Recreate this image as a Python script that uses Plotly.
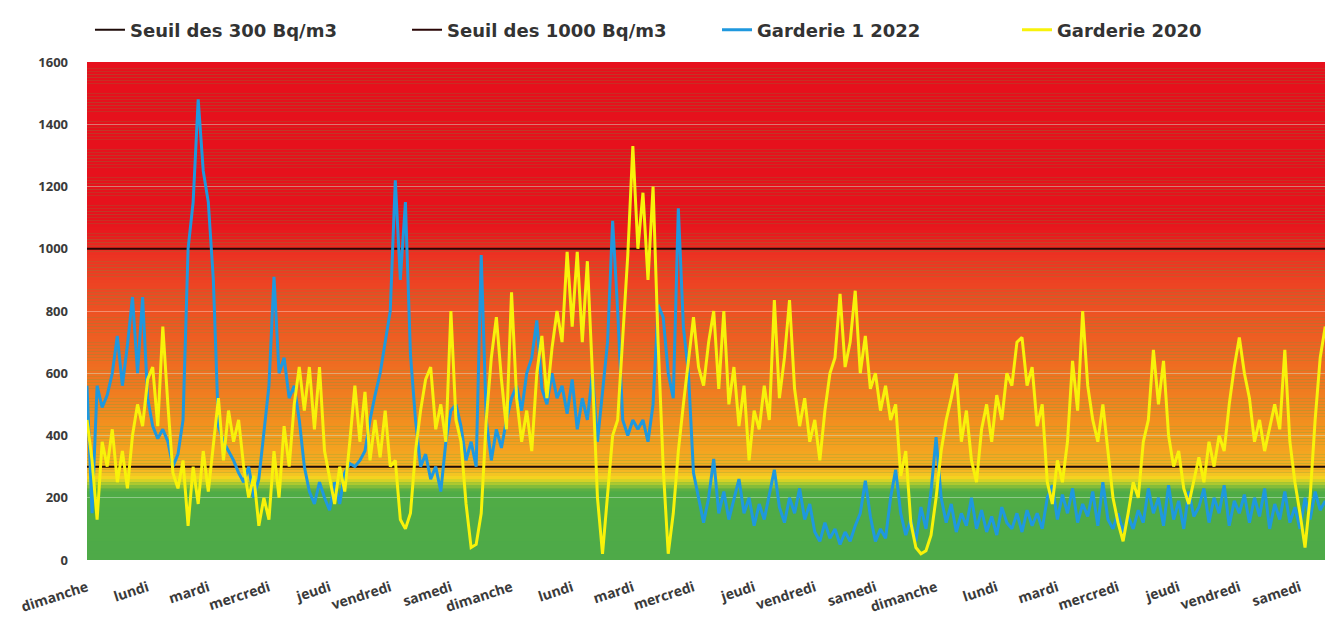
import plotly.graph_objects as go

# ---------------- data ----------------
day_labels = ["dimanche", "lundi", "mardi", "mercredi", "jeudi", "vendredi", "samedi"] * 3
step_hours = 2  # one reading every 2 hours

seuil_300 = 300
seuil_1000 = 1000

garderie1_2022 = [
    560, 150, 560, 490, 530, 600, 720, 560, 690, 845, 600, 845, 520,
    430, 390, 420, 380, 300, 340, 450, 1000, 1150, 1480, 1250, 1150,
    900, 430, 380, 350, 320, 280, 250, 300, 200, 260, 420, 560,
    910, 600, 650, 520, 560, 450, 300, 220, 180, 250, 200, 160,
    250, 180, 280, 310, 300, 320, 350, 450, 530, 600, 700, 800,
    1220, 900, 1150, 660, 450, 300, 340, 260, 300, 220, 380, 480,
    500, 430, 320, 380, 300, 980, 450, 320, 420, 360, 450, 520,
    560, 480, 600, 650, 770, 550, 500, 600, 520, 560, 470, 580,
    420, 520, 450, 600, 380, 550, 700, 1090, 800, 450, 400, 450,
    420, 450, 380, 500, 820, 780, 600, 520, 1130, 750, 600, 280,
    200, 120, 200, 325, 150, 220, 130, 200, 260, 150, 200,
    110, 180, 130, 210, 290, 170, 120, 200, 150, 230, 130, 180,
    90, 60, 120, 70, 100, 50, 90, 60, 110, 150, 255, 140,
    60, 100, 70, 200, 290, 150, 80, 130, 60, 170, 100, 220,
    395, 200, 120, 180, 90, 150, 110, 200, 100, 160, 90, 140,
    80, 170, 120, 100, 150, 90, 160, 110, 150, 100, 200, 240,
    130, 210, 150, 230, 120, 180, 140, 220, 110, 250, 130, 100,
    150, 90, 140, 100, 160, 120, 230, 150, 200, 110, 240, 130,
    190, 100, 220, 140, 170, 230, 120, 200, 150, 240, 110, 190,
    150, 210, 120, 200, 140, 230, 100, 180, 130, 220, 120, 170,
    100, 200, 130, 220, 160, 190,
]

garderie_2020 = [
    450, 320, 130, 380, 300, 420, 250, 350, 230, 400, 500, 430, 580,
    620, 430, 750, 500, 280, 230, 320, 110, 300, 180, 350, 220,
    380, 520, 320, 480, 380, 450, 300, 200, 270, 110, 200, 130,
    350, 200, 430, 300, 500, 620, 480, 620, 420, 620, 350, 270,
    180, 300, 220, 380, 560, 380, 540, 320, 450, 330, 480, 300,
    320, 130, 100, 150, 350, 480, 580, 620, 420, 500, 380, 800,
    450, 380, 180, 40, 50, 150, 450, 650, 780, 580, 420, 860,
    520, 380, 480, 350, 600, 720, 520, 680, 800, 700, 990, 750,
    990, 700, 960, 600, 200, 20, 220, 400, 450, 720, 980, 1330,
    1000, 1180, 900, 1200, 700, 300, 20, 150, 350, 500, 650, 780,
    620, 560, 700, 800, 550, 800, 500, 620, 430, 560, 320,
    480, 420, 560, 450, 835, 520, 650, 835, 550, 430, 520, 380,
    450, 320, 480, 600, 650, 855, 620, 700, 865, 600, 720, 550,
    600, 480, 560, 450, 500, 270, 350, 120, 40, 20, 30, 80,
    200, 350, 450, 520, 600, 380, 480, 320, 250, 420, 500, 380,
    530, 450, 600, 560, 700, 715, 560, 620, 430, 500, 250, 180,
    320, 250, 380, 640, 480, 800, 560, 450, 380, 500, 350, 200,
    120, 60, 150, 250, 200, 380, 450, 675, 500, 640, 400, 300,
    350, 230, 180, 250, 330, 250, 380, 300, 400, 350, 500, 620,
    715, 600, 520, 380, 450, 350, 420, 500, 420, 675, 380, 250,
    150, 40, 200, 450, 650, 750,
]

n = len(garderie_2020)
hours = [i * step_hours for i in range(n)]
tick_hours = [24 * d for d in range(len(day_labels))]

# ---------------- background gradient (styling) ----------------
stops = [
    (0, (78, 170, 72)), (222, (80, 172, 70)), (248, (185, 205, 45)),
    (262, (244, 214, 32)), (288, (245, 178, 35)), (400, (243, 152, 30)),
    (550, (240, 122, 32)), (700, (238, 96, 34)), (850, (237, 74, 35)),
    (980, (236, 50, 34)), (1040, (232, 28, 30)), (1100, (230, 18, 28)),
    (1600, (230, 16, 28)),
]


def color_at(v):
    for (v0, c0), (v1, c1) in zip(stops[:-1], stops[1:]):
        if v0 <= v <= v1:
            t = (v - v0) / (v1 - v0)
            return "rgb(%d,%d,%d)" % tuple(round(a + (b - a) * t) for a, b in zip(c0, c1))
    return "rgb(%d,%d,%d)" % stops[-1][1]


shapes = []
band = 10
for lo in range(0, 1600, band):
    shapes.append(dict(type="rect", xref="paper", yref="y", x0=0, x1=1,
                       y0=lo, y1=lo + band, fillcolor=color_at(lo + band / 2),
                       line=dict(width=0), layer="below"))

# ---------------- figure ----------------
fig = go.Figure()
fig.add_trace(go.Scatter(x=[hours[0], hours[-1]], y=[seuil_300, seuil_300], mode="lines",
                         name="Seuil des 300 Bq/m3", legend="legend",
                         line=dict(color="#1e0b08", width=2)))
fig.add_trace(go.Scatter(x=[hours[0], hours[-1]], y=[seuil_1000, seuil_1000], mode="lines",
                         name="Seuil des 1000 Bq/m3", legend="legend2",
                         line=dict(color="#2a0606", width=2)))
fig.add_trace(go.Scatter(x=hours, y=garderie1_2022, mode="lines", name="Garderie 1 2022",
                         legend="legend3", line=dict(color="#1f98de", width=3)))
fig.add_trace(go.Scatter(x=hours, y=garderie_2020, mode="lines", name="Garderie 2020",
                         legend="legend4", line=dict(color="#f8f20a", width=3)))

legend_font = dict(family="DejaVu Sans", size=18, color="#333333", weight="bold")


def legend_at(xpos):
    return dict(orientation="h", x=xpos, xanchor="left", y=1.064, yanchor="middle",
                font=legend_font, itemwidth=30, bgcolor="rgba(0,0,0,0)")


tick_family = "Open Sans"
fig.update_layout(
    width=1325, height=619,
    margin=dict(l=87, r=0, t=62, b=59),
    paper_bgcolor="white", plot_bgcolor="rgb(78,170,72)",
    shapes=shapes,
    showlegend=True,
    legend=legend_at(0.0024),
    legend2=legend_at(0.2585),
    legend3=legend_at(0.5089),
    legend4=legend_at(0.7512),
    xaxis=dict(range=[0, 489.9], tickmode="array", tickvals=tick_hours, ticktext=day_labels,
               tickangle=-18, showgrid=False, zeroline=False, showline=False, ticks="",
               ticklabelstandoff=16, automargin=False,
               tickfont=dict(family=tick_family, size=14, color="#3a3a3a", weight="bold")),
    yaxis=dict(range=[0, 1600], dtick=200, showgrid=True, gridcolor="rgba(255,255,255,0.35)",
               gridwidth=1, zeroline=False, showline=False, ticks="", ticklabelstandoff=18,
               automargin=False,
               tickfont=dict(family=tick_family, size=13, color="#3a3a3a", weight="bold")),
    hovermode=False,
)

fig.write_html("out.html", config={"displayModeBar": False},
               post_script="document.body.style.margin='0';document.body.style.overflow='hidden';")
